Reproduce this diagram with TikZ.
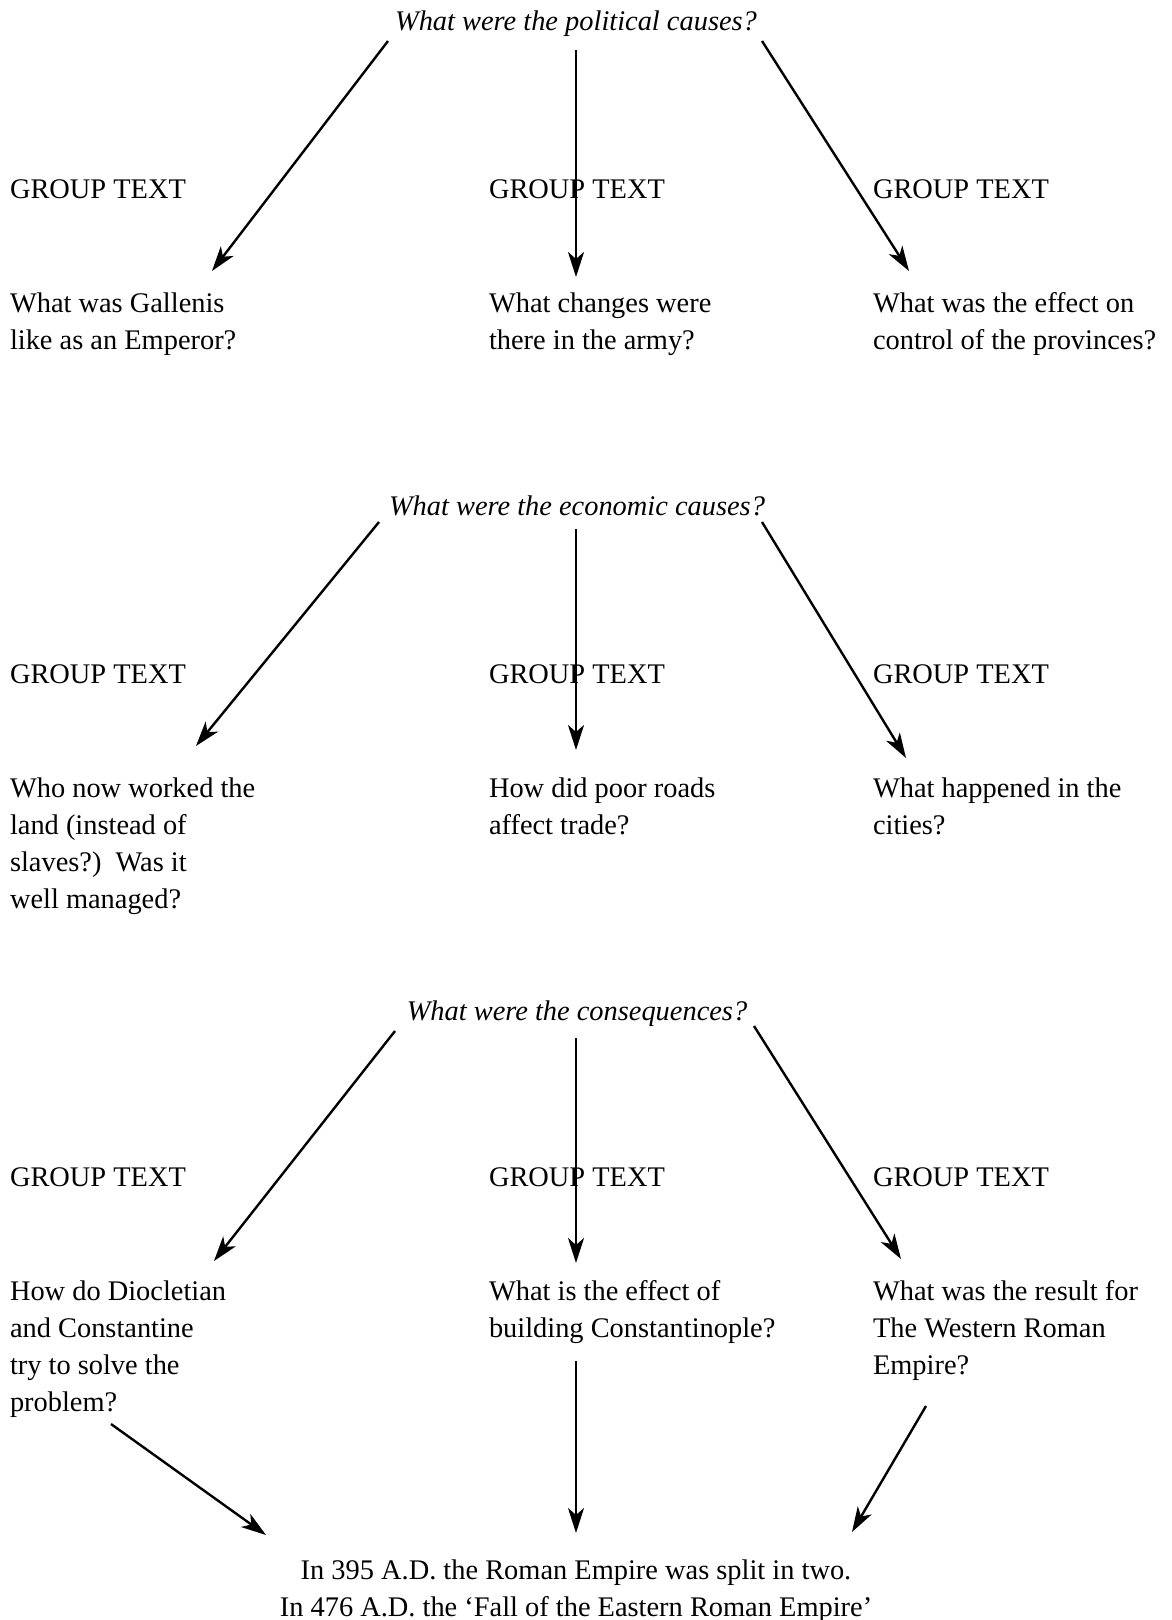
\documentclass[tikz,border=0pt]{standalone}
\usepackage{fontspec}
\setmainfont{Liberation Serif}
\usetikzlibrary{arrows.meta}
\begin{document}
\begin{tikzpicture}[x=1pt,y=-1pt,
  txt/.style={inner sep=0pt,outer sep=0pt,anchor=base west,align=left,font=\fontsize{28.4}{37}\selectfont},
  ttl/.style={inner sep=0pt,outer sep=0pt,anchor=base,font=\fontsize{28.4}{37}\selectfont\itshape},
  ctr/.style={inner sep=0pt,outer sep=0pt,anchor=base,align=center,font=\fontsize{28.4}{37}\selectfont},
  arr/.style={line width=2.4pt,-{Stealth[length=25pt,width=16pt,inset=7pt]}}]
\useasboundingbox (0,0) rectangle (1171,1620);
% ---------- section 1
\node[ttl] (t1) at (576,30) {What were the political causes?};
\node[txt] (g1a) at (10,198) {GROUP TEXT};
\node[txt] (g1b) at (489,198) {GROUP TEXT};
\node[txt] (g1c) at (873,198) {GROUP TEXT};
\node[txt] (q1a) at (10,349) {What was Gallenis\\like as an Emperor?};
\node[txt] (q1b) at (489,349) {What changes were\\there in the army?};
\node[txt] (q1c) at (873,349) {What was the effect on\\control of the provinces?};
\coordinate (s1a) at (388,41); \coordinate (e1a) at (212,271);
\coordinate (s1b) at (576,50); \coordinate (e1b) at (576,277);
\coordinate (s1c) at (762,41); \coordinate (e1c) at (909,271);
\draw[arr] (s1a) -- (e1a);
\draw[arr] (s1b) -- (e1b);
\draw[arr] (s1c) -- (e1c);
% ---------- section 2
\node[ttl] (t2) at (577,515) {What were the economic causes?};
\node[txt] (g2a) at (10,683) {GROUP TEXT};
\node[txt] (g2b) at (489,683) {GROUP TEXT};
\node[txt] (g2c) at (873,683) {GROUP TEXT};
\node[txt] (q2a) at (10,908) {Who now worked the\\land (instead of\\slaves?)\ \ Was it\\well managed?};
\node[txt] (q2b) at (489,834) {How did poor roads\\affect trade?};
\node[txt] (q2c) at (873,834) {What happened in the\\cities?};
\coordinate (s2a) at (379,522); \coordinate (e2a) at (196,746);
\coordinate (s2b) at (576,529); \coordinate (e2b) at (576,750);
\coordinate (s2c) at (762,522); \coordinate (e2c) at (906,758);
\draw[arr] (s2a) -- (e2a);
\draw[arr] (s2b) -- (e2b);
\draw[arr] (s2c) -- (e2c);
% ---------- section 3
\node[ttl] (t3) at (577,1020) {What were the consequences?};
\node[txt] (g3a) at (10,1186) {GROUP TEXT};
\node[txt] (g3b) at (489,1186) {GROUP TEXT};
\node[txt] (g3c) at (873,1186) {GROUP TEXT};
\node[txt] (q3a) at (10,1411) {How do Diocletian\\and Constantine\\try to solve the\\problem?};
\node[txt] (q3b) at (489,1337) {What is the effect of\\building Constantinople?};
\node[txt] (q3c) at (873,1374) {What was the result for\\The Western Roman\\Empire?};
\coordinate (s3a) at (395,1031); \coordinate (e3a) at (214,1261);
\coordinate (s3b) at (576,1038); \coordinate (e3b) at (576,1263);
\coordinate (s3c) at (754,1026); \coordinate (e3c) at (901,1259);
\draw[arr] (s3a) -- (e3a);
\draw[arr] (s3b) -- (e3b);
\draw[arr] (s3c) -- (e3c);
% ---------- conclusion
\node[ctr] (fin) at (576,1616) {In 395 A.D. the Roman Empire was split in two.\\In 476 A.D. the `Fall of the Eastern Roman Empire'};
\coordinate (s4a) at (111,1424); \coordinate (e4a) at (266,1535);
\coordinate (s4b) at (576,1361); \coordinate (e4b) at (576,1533);
\coordinate (s4c) at (926,1406); \coordinate (e4c) at (852,1532);
\draw[arr] (s4a) -- (e4a);
\draw[arr] (s4b) -- (e4b);
\draw[arr] (s4c) -- (e4c);
\end{tikzpicture}
\end{document}
